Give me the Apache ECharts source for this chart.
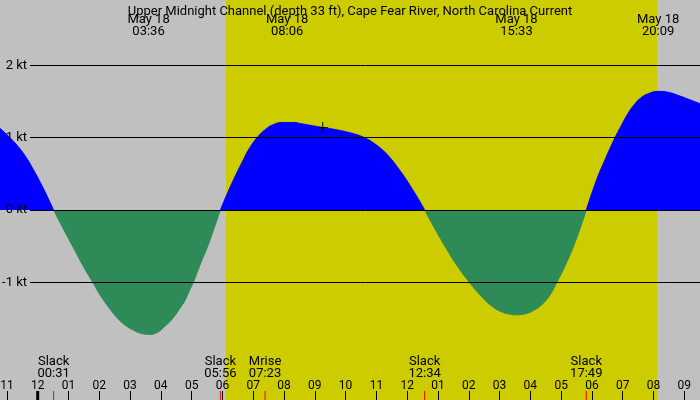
<!DOCTYPE html>
<html>
<head>
<meta charset="utf-8">
<script src="https://cdn.jsdelivr.net/npm/echarts@6/dist/echarts.min.js"></script>
<style>
  html, body { margin: 0; padding: 0; }
  #main { width: 700px; height: 400px; }
</style>
</head>
<body>
<div id="main"></div>
<script>
// tidal current, hours from midnight May 18 (negative = May 17)
var hours = [-1.224, -0.95, -0.682, -0.41, -0.143, 0.182, 0.35, 0.517,
  0.8, 1.157, 1.45, 1.786, 2.05, 2.348, 2.6, 2.835, 3.1, 3.35, 3.6, 3.85, 4.1, 4.404, 4.6, 4.784, 4.92, 5.054, 5.3, 5.541, 5.74, 5.933,
  6.18, 6.44, 6.65, 6.872, 7.145, 7.415, 7.65, 7.957, 8.282, 8.6, 8.93, 9.256, 9.7, 10.12, 10.4, 10.66, 10.93, 11.2, 11.47, 11.74, 11.97, 12.18, 12.38, 12.567,
  12.9, 13.23, 13.62, 14.02, 14.4, 14.75, 15.1, 15.33, 15.55, 15.77, 15.95, 16.1, 16.37, 16.63, 16.86, 17.13, 17.4, 17.62, 17.817,
  18.15, 18.45, 18.75, 18.97, 19.18, 19.4, 19.62, 19.88, 20.15, 20.5, 20.86, 21.2, 21.51];
var speeds = [1.13, 1.02, 0.90, 0.75, 0.56, 0.30, 0.15, 0,
  -0.235, -0.52, -0.755, -1.0, -1.19, -1.37, -1.50, -1.59, -1.66, -1.705, -1.72, -1.70, -1.62, -1.49, -1.37, -1.25, -1.12, -1.0, -0.73, -0.48, -0.24, 0,
  0.25, 0.49, 0.67, 0.85, 1.01, 1.12, 1.18, 1.21, 1.21, 1.19, 1.165, 1.14, 1.11, 1.07, 1.035, 0.99, 0.92, 0.83, 0.71, 0.56, 0.42, 0.28, 0.14, 0,
  -0.26, -0.505, -0.77, -1.0, -1.19, -1.33, -1.415, -1.44, -1.45, -1.44, -1.42, -1.39, -1.31, -1.18, -1.0, -0.77, -0.505, -0.25, 0,
  0.415, 0.72, 1.0, 1.18, 1.34, 1.47, 1.56, 1.615, 1.64, 1.625, 1.575, 1.52, 1.47];

var speedLevels = [2, 1, 0, -1];

// max flood / ebb times (top labels)
var peakTimes = ['03:36', '08:06', '15:33', '20:09'];
var peakDate = 'May 18';

// events along the bottom
var eventNames = ['Slack', 'Slack', 'Mrise', 'Slack', 'Slack'];
var eventTimes = ['00:31', '05:56', '07:23', '12:34', '17:49'];

var sunrise = '06:07';
var sunset = '20:07';
var nowMark = [9.256, 1.14];

function toHour(s) {
  var p = s.split(':');
  return +p[0] + (+p[1]) / 60;
}

var flood = [], ebb = [];
for (var i = 0; i < hours.length; i++) {
  flood.push([hours[i], speeds[i] >= 0 ? speeds[i] : null]);
  ebb.push([hours[i], speeds[i] <= 0 ? speeds[i] : null]);
}

var myChart = echarts.init(document.getElementById('main'));
var font = 'Roboto';

var option = {
  animation: false,
  backgroundColor: '#c0c0c0',
  textStyle: { fontFamily: font },
  title: {
    text: 'Upper Midnight Channel (depth 33 ft), Cape Fear River, North Carolina Current',
    left: 'center',
    top: 0,
    textStyle: { fontSize: 13, fontWeight: 'normal', color: '#000', fontFamily: font }
  },
  grid: { left: -23.88, right: -15.1, top: 0, bottom: 0, containLabel: false, outerBoundsMode: 'none' },
  xAxis: {
    type: 'value',
    min: -2,
    max: 22,
    interval: 1,
    z: 10,
    axisLine: { show: false, onZero: false },
    splitLine: { show: false },
    axisTick: { inside: true, length: 9, lineStyle: { color: '#000', width: 1 } },
    axisLabel: {
      inside: true,
      margin: 8,
      fontSize: 12,
      color: '#000',
      fontFamily: font,
      formatter: function (v) {
        var k = ((v % 12) + 12) % 12;
        if (k === 0) k = 12;
        return (k < 10 ? '0' : '') + k;
      }
    }
  },
  yAxis: {
    type: 'value',
    min: -2.627,
    max: 2.903,
    show: false,
    splitLine: { show: false }
  },
  series: [
    {
      type: 'line',
      data: [],
      z: 0,
      silent: true,
      markArea: {
        silent: true,
        itemStyle: { color: '#cccc00' },
        data: [[{ xAxis: toHour(sunrise) }, { xAxis: toHour(sunset) }]]
      }
    },
    {
      type: 'line',
      data: [],
      z: 1,
      silent: true,
      markLine: {
        silent: true,
        symbol: 'none',
        lineStyle: { color: '#000', width: 1, type: 'solid' },
        label: {
          position: 'start',
          distance: 3,
          color: '#000',
          fontSize: 13,
          fontFamily: font,
          formatter: function (p) { return p.data.coord[1] + ' kt'; }
        },
        data: speedLevels.map(function (v) {
          return [{ coord: [-0.25, v] }, { coord: [22, v] }];
        })
      }
    },
    {
      name: 'flood',
      type: 'line',
      data: flood,
      z: 2,
      smooth: true,
      showSymbol: false,
      lineStyle: { color: '#0000ff', width: 1 },
      areaStyle: { color: '#0000ff', opacity: 1 }
    },
    {
      name: 'ebb',
      type: 'line',
      data: ebb,
      z: 2,
      smooth: true,
      showSymbol: false,
      lineStyle: { color: '#2e8b57', width: 1 },
      areaStyle: { color: '#2e8b57', opacity: 1 }
    },
    {
      type: 'scatter',
      data: [nowMark],
      z: 3,
      silent: true,
      symbol: 'path://M0,5L10,5M5,0L5,10',
      symbolSize: 11,
      itemStyle: { color: 'none', borderColor: '#000', borderWidth: 1.2 }
    }
  ]
};
myChart.setOption(option);

// labels and event ticks placed through the x scale
var graphics = [];
function label(x, y, text) {
  graphics.push({ type: 'text', z: 100, x: x, y: y, style: { text: text, font: '13px ' + font, fill: '#000', align: 'center', verticalAlign: 'middle' } });
}
peakTimes.forEach(function (t) {
  var x = myChart.convertToPixel({ xAxisIndex: 0 }, toHour(t));
  label(x, 20, peakDate);
  label(x, 32, t);
});
eventTimes.forEach(function (t, i) {
  var x = myChart.convertToPixel({ xAxisIndex: 0 }, toHour(t));
  label(x, 362, eventNames[i]);
  label(x, 374, t);
  graphics.push({ type: 'line', z: 100, shape: { x1: x, y1: 391, x2: x, y2: 400 }, style: { stroke: '#ff0000', lineWidth: 1 } });
});
var mid = myChart.convertToPixel({ xAxisIndex: 0 }, 0);
graphics.push({ type: 'line', z: 100, shape: { x1: mid, y1: 391, x2: mid, y2: 400 }, style: { stroke: '#000', lineWidth: 3 } });
myChart.setOption({ graphic: graphics });
</script>
</body>
</html>
